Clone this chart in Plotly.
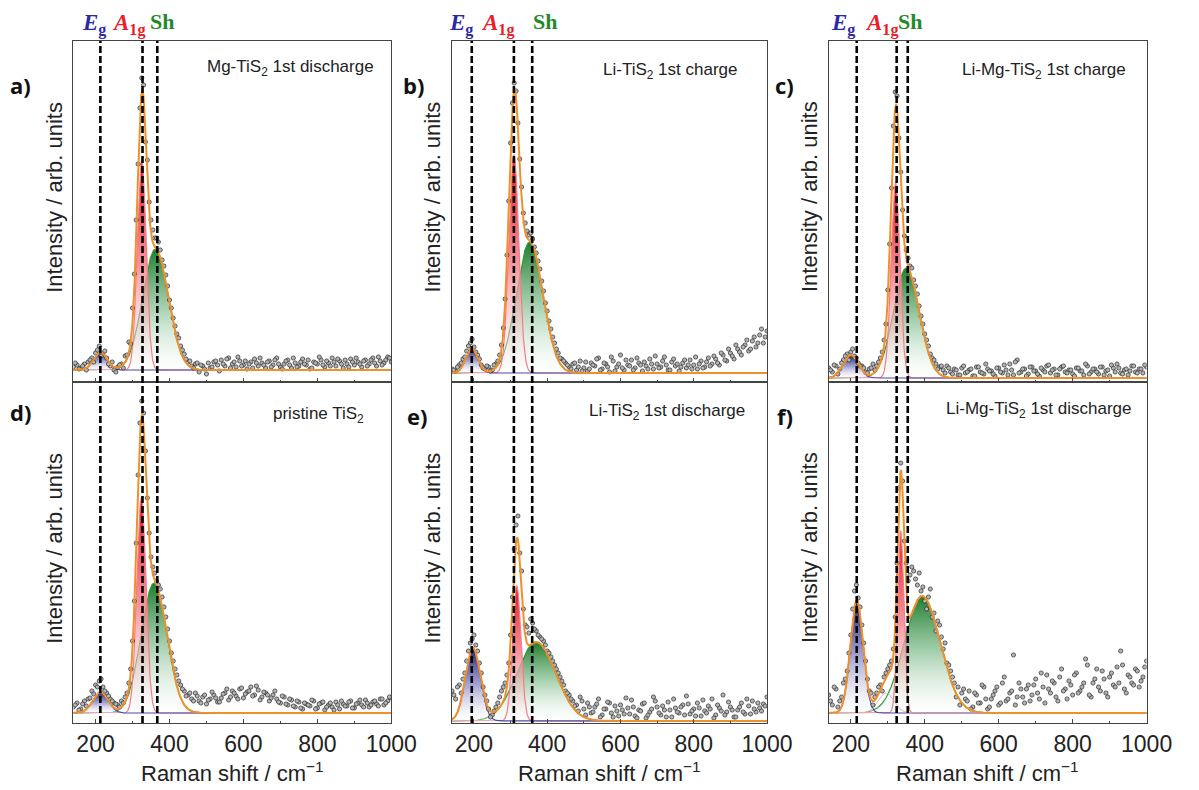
import numpy as np
import plotly.graph_objects as go

W, H = 1199, 790

# ---------------- data ----------------
# Raman shift positions of the measured points (cm-1): main grid and half-step grid
raman_x = list(range(140, 1001, 10))
raman_x_mid = list(range(145, 1000, 10))

# measured intensities (arb. units, baseline = 0), one list per panel
intensity_a = [3, 5, 2, 6, 8, 12, 17, 24, 16, 12, 4, 0, 3, 6, 14, 28, 62, 150, 262, 285,
               210, 150, 132, 128, 110, 95, 70, 52, 36, 24, 16, 8, 4, 6, -2, 4, -4, 2, 8, 5,
               10, 4, 12, 6, 3, 9, 5, 1, 8, 11, 4, 7, 2, 9, 5, 12, 3, 6, 10, 2,
               7, 4, 11, 5, 1, 8, 6, 10, 3, 7, 12, 4, 9, 2, 6, 11, 5, 8, 3, 10,
               6, 12, 4, 9, 7, 13, 8]
intensity_a_mid = [7, 1, 4, 0, 10, 8, 20, 14, 19, 6, 8, -2, 5, 2, 15, 26, 96, 206, 292, 228,
                   168, 140, 132, 120, 104, 84, 62, 44, 32, 20, 11, 9, 2, 7,
                   5, 1, 7, 3, 9, -1, 6, 11, 2, 8, 13, 4, 9, 6, 2, 7, 12, 5, 8, 3,
                   10, 6, 1, 9, 5, 12, 3, 8, 6, 10, 2, 7, 13, 5, 9, 4, 8, 11, 6, 10,
                   3, 8, 12, 6, 9, 4, 10, 7, 13, 5, 10, 12]
intensity_b = [4, 2, 8, 14, 22, 30, 26, 18, 8, 4, 6, 3, 9, 18, 45, 118, 230, 290, 250, 186,
               150, 138, 134, 120, 104, 82, 62, 44, 30, 20, 14, 10, 6, 9, 3, 12, 5, 2, 10, 7,
               15, 4, 9, 1, 12, 6, 18, 3, 8, 13, 5, 10, 2, 7, 14, 4, 9, 6, 16, 3,
               11, 7, 2, 10, 5, 13, 8, 4, 12, 6, 15, 9, 14, 8, 18, 12, 20, 14, 24, 18,
               28, 22, 32, 26, 38, 30, 42]
intensity_b_mid = [3, 6, 10, 16, 27, 34, 21, 14, 5, 7, 2, 8, 12, 28, 74, 172, 270, 282, 214, 160,
                   142, 140, 126, 112, 92, 70, 52, 36, 24, 15, 12, 8, 4, 10,
                   6, 2, 11, 4, 8, 14, 3, 10, 6, 16, 2, 9, 5, 13, 7, 3, 15, 8, 11, 4,
                   9, 17, 5, 12, 8, 3, 14, 9, 6, 13, 8, 4, 16, 9, 5, 11, 7, 17, 10, 20,
                   13, 24, 17, 28, 21, 26, 33, 24, 36, 30, 44, 36]
intensity_c = [10, 6, 12, 9, 18, 24, 26, 22, 15, 12, 6, 9, 14, 12, 20, 38, 88, 190, 286, 240,
               168, 128, 112, 98, 84, 62, 44, 32, 20, 14, 11, 8, 12, 6, 9, 3, 10, 5, 8, 2,
               11, 6, 4, 9, 7, 2, 10, 5, 8, 14, 3, 18, 6, 9, 4, 11, 7, 2, 8, 12,
               5, 9, 3, 11, 6, 8, 4, 10, 7, 3, 12, 6, 9, 4, 11, 7, 2, 10, 14, 5,
               8, 3, 12, 6, 9, 5, 11]
intensity_c_mid = [8, 13, 4, 15, 22, 18, 29, 20, 12, 10, 5, 10, 8, 16, 26, 54, 134, 252, 282, 206,
                   142, 120, 110, 92, 72, 54, 38, 24, 18, 9, 12, 5, 10, 4,
                   8, 3, 12, 6, 9, 2, 11, 5, 14, 7, 4, 10, 6, 13, 3, 8, 16, 5, 9, 2,
                   11, 7, 4, 10, 6, 13, 8, 3, 9, 12, 5, 8, 2, 10, 7, 14, 4, 9, 6, 11,
                   3, 8, 13, 6, 10, 4, 9, 7, 12, 5, 9, 13]
intensity_d = [6, 10, 4, 12, 14, 22, 28, 32, 26, 20, 14, 10, 8, 12, 16, 30, 72, 170, 290, 300,
               215, 156, 140, 128, 116, 96, 72, 52, 38, 28, 22, 18, 14, 20, 12, 16, 9, 14, 18, 11,
               15, 20, 13, 22, 17, 24, 15, 21, 26, 18, 23, 16, 20, 12, 18, 14, 10, 16, 8, 13,
               6, 11, 4, 9, 7, 12, 5, 10, 3, 8, 6, 11, 4, 9, 7, 12, 5, 10, 8, 13,
               6, 11, 9, 14, 8, 12, 15]
intensity_d_mid = [8, 3, 9, 7, 15, 19, 26, 34, 22, 17, 12, 9, 6, 10, 20, 44, 112, 238, 312, 262,
                   180, 146, 132, 124, 106, 84, 60, 44, 32, 24, 17, 20, 12, 17,
                   10, 18, 13, 21, 15, 11, 19, 24, 16, 20, 14, 25, 19, 22, 17, 27, 13, 21, 18, 15,
                   22, 11, 17, 9, 14, 7, 12, 5, 10, 8, 13, 4, 9, 11, 6, 10, 3, 8, 12, 7,
                   11, 5, 9, 13, 6, 10, 8, 12, 7, 14, 10, 16]
intensity_e = [30, 22, 36, 42, 60, 78, 86, 70, 48, 26, 12, 6, 14, 24, 34, 46, 86, 172, 205, 150,
               96, 88, 98, 90, 84, 80, 70, 64, 56, 48, 40, 30, 26, 20, 16, 24, 12, 18, 8, 14,
               22, 6, 12, 18, 4, 10, 16, 7, 13, 21, 5, 11, 17, 3, 9, 24, 14, 6, 11, 19,
               4, 13, 8, 16, 25, 7, 12, 18, 5, 10, 15, 22, 6, 13, 26, 9, 14, 4, 11, 18,
               7, 15, 20, 9, 13, 17, 24]
intensity_e_mid = [26, 34, 28, 48, 70, 82, 76, 58, 34, 20, 4, 10, 18, 30, 38, 58, 124, 196, 168, 112,
                   94, 102, 92, 86, 82, 76, 68, 60, 52, 44, 36, 28, 22, 15,
                   10, 20, 6, 14, 9, 17, 4, 12, 19, 8, 15, 5, 11, 23, 7, 14, 3, 10, 18, 6,
                   12, 20, 8, 15, 4, 11, 22, 9, 14, 6, 17, 10, 5, 13, 21, 8, 12, 3, 16, 10,
                   6, 19, 11, 4, 14, 9, 22, 7, 12, 18, 10, 15]
intensity_f = [18, 8, 24, 12, 30, 42, 78, 122, 115, 88, 52, 22, 8, 20, 28, 36, 44, 52, 96, 225,
               232, 150, 138, 142, 128, 122, 112, 116, 96, 82, 88, 64, 50, 42, 30, 26, 20, 14, 22, 6,
               18, 10, 26, 4, 14, 22, 8, 30, 12, 20, 58, 16, 24, 10, 28, 18, 34, 14, 26, 38,
               20, 30, 12, 44, 24, 32, 18, 40, 22, 30, 48, 16, 34, 26, 42, 20, 36, 28, 46, 62,
               24, 38, 30, 44, 26, 36, 52]
intensity_f_mid = [12, 26, 6, 16, 34, 60, 104, 128, 106, 70, 34, 20, 16, 26, 22, 40, 48, 64, 150, 250,
                   172, 132, 146, 134, 140, 126, 104, 124, 100, 92, 76, 70, 48, 36,
                   16, 8, 24, 12, 4, 20, 10, 28, 14, 6, 18, 26, 10, 36, 14, 22, 8, 30, 16, 24,
                   12, 28, 20, 40, 10, 24, 32, 16, 36, 22, 14, 28, 38, 20, 26, 54, 18, 30, 44, 22,
                   34, 16, 40, 26, 30, 48, 20, 36, 28, 42, 32, 46]

intensities = [intensity_a, intensity_b, intensity_c, intensity_d, intensity_e, intensity_f]
intensities_mid = [intensity_a_mid, intensity_b_mid, intensity_c_mid,
                   intensity_d_mid, intensity_e_mid, intensity_f_mid]

# fitted peak components: centre (cm-1), height, FWHM  (panels a..f)
eg_center = [213, 194, 200, 213, 197, 216]
eg_height = [18, 25, 23, 21, 73, 113]
eg_fwhm = [42, 38, 48, 48, 48, 40]
a1g_center = [325, 309, 321, 324, 317, 335]
a1g_height = [210, 218, 195, 216, 135, 182]
a1g_fwhm = [28, 32, 28, 29, 27, 20]
sh_center = [362, 352, 350, 358, 370, 393]
sh_height = [121, 131, 110, 130, 79, 117]
sh_fwhm = [82, 85, 82, 82, 125, 114]
extra_center = [295, 295, 295, 295, 295, 295]
extra_height = [0, 0, 0, 0, 0, 20]
extra_fwhm = [50, 50, 50, 50, 50, 50]

# dashed reference lines per column (cm-1)
dash_lines = [[213, 327, 367], [194, 309, 359], [216, 324, 354]]

panel_titles = ["Mg-TiS<sub>2</sub> 1st discharge", "Li-TiS<sub>2</sub> 1st charge",
                "Li-Mg-TiS<sub>2</sub> 1st charge", "pristine TiS<sub>2</sub>",
                "Li-TiS<sub>2</sub> 1st discharge", "Li-Mg-TiS<sub>2</sub> 1st discharge"]
panel_letters = ["a)", "b)", "c)", "d)", "e)", "f)"]
y_ranges = [[-12, 329], [-9, 332], [-4, 337], [-10, 331], [-2, 339], [-10, 331]]
x_range = [140, 1000]
x_tickvals = [200, 400, 600, 800, 1000]
x_minor_tickvals = [300, 500, 700, 900]

# ---------------- layout geometry (pixels) ----------------
col_px = [(75, 400), (462, 784), (847, 1172)]
row_px = [(41, 382), (382, 723)]
title_px = [(384, 68), (756, 71), (1153, 71), (374, 415), (764, 412), (1159, 410)]
letter_px = [(21, 85), (423, 85), (802, 85), (21, 412), (426, 416), (802, 416)]
label_px = [[96, 131, 166], [471, 509, 557], [862, 901, 930]]
ytitle_cy = [197, 548]

SANS = "Liberation Sans, Arial, sans-serif"
SERIF = "Liberation Serif, Times New Roman, serif"


def px_x(x):
    return x / W


def px_y(y):
    return 1 - y / H


def gauss(x, c, h, w):
    return h * np.exp(-4 * np.log(2) * (x - c) ** 2 / w ** 2)


xf = np.linspace(x_range[0], x_range[1], 1721)

fig = go.Figure()
layout = dict(width=W, height=H, margin=dict(l=0, r=0, t=0, b=0),
              paper_bgcolor="white", plot_bgcolor="white", showlegend=False,
              font=dict(family=SANS, color="#222"))
annotations = []
shapes = []

for i in range(6):
    col = i % 3
    row = i // 3
    sfx = "" if i == 0 else str(i + 1)
    xa, ya = "x" + sfx, "y" + sfx
    comp_sh = gauss(xf, sh_center[i], sh_height[i], sh_fwhm[i])
    comp_a1 = gauss(xf, a1g_center[i], a1g_height[i], a1g_fwhm[i])
    comp_eg = gauss(xf, eg_center[i], eg_height[i], eg_fwhm[i])
    comp_ex = gauss(xf, extra_center[i], extra_height[i], extra_fwhm[i])
    total = comp_sh + comp_a1 + comp_eg + comp_ex

    fig.add_trace(go.Scatter(x=xf, y=comp_sh, xaxis=xa, yaxis=ya, mode="lines",
                             line=dict(color="#2e9a3a", width=1.2), fill="tozeroy",
                             fillgradient=dict(type="vertical",
                                               colorscale=[[0, "rgba(255,255,255,0.3)"],
                                                           [0.5, "rgba(150,200,160,0.8)"],
                                                           [1, "rgb(30,125,45)"]])))
    fig.add_trace(go.Scatter(x=xf, y=comp_a1, xaxis=xa, yaxis=ya, mode="lines",
                             line=dict(color="#f07f8c", width=1.2), fill="tozeroy",
                             fillgradient=dict(type="vertical",
                                               colorscale=[[0, "rgba(255,255,255,0.3)"],
                                                           [0.5, "rgba(245,130,140,0.85)"],
                                                           [1, "rgb(235,15,25)"]])))
    fig.add_trace(go.Scatter(x=xf, y=comp_eg, xaxis=xa, yaxis=ya, mode="lines",
                             line=dict(color="#4a4aa8", width=1.2), fill="tozeroy",
                             fillgradient=dict(type="vertical",
                                               colorscale=[[0, "rgba(255,255,255,0.3)"],
                                                           [0.5, "rgba(140,140,200,0.8)"],
                                                           [1, "rgb(30,30,115)"]])))
    if extra_height[i] > 0:
        fig.add_trace(go.Scatter(x=xf, y=comp_ex, xaxis=xa, yaxis=ya, mode="lines",
                                 line=dict(color="#d8b0b8", width=1)))
    fig.add_trace(go.Scatter(x=raman_x + raman_x_mid, y=intensities[i] + intensities_mid[i],
                             xaxis=xa, yaxis=ya, mode="markers",
                             marker=dict(size=4.2, color="#b4b4b4",
                                         line=dict(color="#2a2a2a", width=0.7))))
    fig.add_trace(go.Scatter(x=xf, y=total, xaxis=xa, yaxis=ya, mode="lines",
                             line=dict(color="#f0902a", width=2)))

    x0, x1 = col_px[col]
    y0, y1 = row_px[row]
    layout["xaxis" + sfx] = dict(domain=[px_x(x0), px_x(x1)], anchor=ya, range=x_range,
                                 showgrid=False, zeroline=False, showline=True, mirror=True,
                                 linecolor="#444", linewidth=1.3, ticks="inside", ticklen=4,
                                 tickcolor="#444", tickvals=x_tickvals,
                                 minor=dict(tickvals=x_minor_tickvals, ticks="inside",
                                            ticklen=2, tickcolor="#444"),
                                 showticklabels=(row == 1),
                                 tickfont=dict(size=23, family=SANS, color="#222"))
    layout["yaxis" + sfx] = dict(domain=[px_y(y1), px_y(y0)], anchor=xa, range=y_ranges[i],
                                 showgrid=False, zeroline=False, showline=True, mirror=True,
                                 linecolor="#444", linewidth=1.3, ticks="",
                                 showticklabels=False)

    tx, ty = title_px[i]
    annotations.append(dict(x=px_x(tx), y=px_y(ty), xref="paper", yref="paper",
                            text=panel_titles[i], showarrow=False, xanchor="right",
                            yanchor="middle", font=dict(size=17, family=SANS, color="#222")))
    lx, ly = letter_px[i]
    annotations.append(dict(x=px_x(lx), y=px_y(ly), xref="paper", yref="paper",
                            text="<b>" + panel_letters[i] + "</b>", showarrow=False,
                            xanchor="center", yanchor="middle",
                            font=dict(size=22, family="Open Sans, Liberation Sans", color="#111")))
    annotations.append(dict(x=px_x(x0 - 20), y=px_y(ytitle_cy[row]), xref="paper",
                            yref="paper", text="Intensity / arb. units", showarrow=False,
                            textangle=-90, xanchor="center", yanchor="middle",
                            font=dict(size=22, family=SANS, color="#222")))
    if row == 1:
        annotations.append(dict(x=px_x((x0 + x1) / 2), y=px_y(772), xref="paper",
                                yref="paper", text="Raman shift / cm<sup>\u22121</sup>",
                                showarrow=False, xanchor="center", yanchor="middle",
                                font=dict(size=22, family=SANS, color="#222")))

for col in range(3):
    xa = "x" if col == 0 else "x" + str(col + 1)
    for v in dash_lines[col]:
        shapes.append(dict(type="line", xref=xa, yref="paper", x0=v, x1=v,
                           y0=px_y(row_px[1][1]), y1=px_y(row_px[0][0]),
                           line=dict(color="black", width=2.6, dash="7px,3px")))
    lab = label_px[col]
    annotations.append(dict(x=px_x(lab[0]), y=px_y(24), xref="paper", yref="paper",
                            xanchor="center", yanchor="middle",
                            text="<b><i>E</i></b><sub><b>g</b></sub>", showarrow=False,
                            font=dict(size=23, family=SERIF, color="#2a2aa8")))
    annotations.append(dict(x=px_x(lab[1]), y=px_y(24), xref="paper", yref="paper",
                            xanchor="center", yanchor="middle",
                            text="<b><i>A</i></b><sub><b>1g</b></sub>", showarrow=False,
                            font=dict(size=23, family=SERIF, color="#e8202a")))
    annotations.append(dict(x=px_x(lab[2]), y=px_y(21), xref="paper", yref="paper",
                            xanchor="center", yanchor="middle",
                            text="<b>Sh</b>", showarrow=False,
                            font=dict(size=22, family=SERIF, color="#1f8a2a")))

layout["annotations"] = annotations
layout["shapes"] = shapes
fig.update_layout(**layout)
fig.write_html("out.html")
